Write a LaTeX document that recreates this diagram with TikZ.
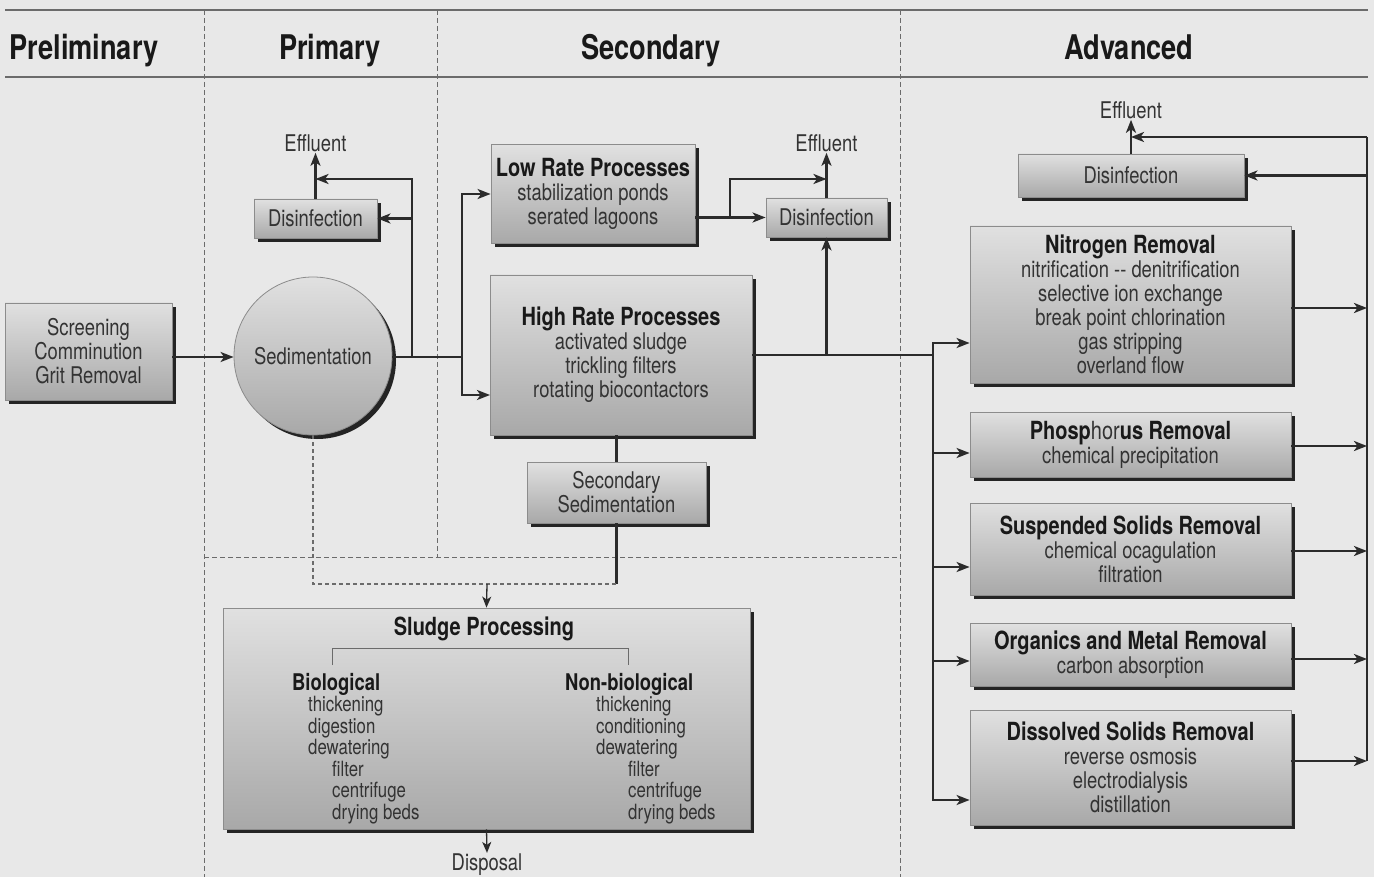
\documentclass[tikz,border=0pt]{standalone}
\usepackage{fontspec}
\setmainfont{TeX Gyre Heros}[FakeStretch=0.8]
\usepackage{tikz}
\usetikzlibrary{arrows.meta,shadows}
\definecolor{PaperGray}{gray}{0.91}
\definecolor{BoxTop}{gray}{0.88}
\definecolor{BoxBottom}{gray}{0.66}
\definecolor{BoxEdge}{gray}{0.55}
\definecolor{ShadowDark}{gray}{0.14}
\definecolor{LineDark}{gray}{0.17}
\definecolor{RuleGray}{gray}{0.42}
\definecolor{InkGray}{gray}{0.2}
\definecolor{TitleInk}{gray}{0.1}
\newcommand{\stagetitle}[1]{{\fontsize{25}{24}\selectfont\bfseries\color{TitleInk}#1}}
\newcommand{\grouptitle}[1]{{\fontsize{23}{21.5}\selectfont\bfseries\color{TitleInk}#1}}
\tikzset{
	stage/.style={draw=BoxEdge, line width=0.8pt, top color=BoxTop, bottom color=BoxBottom,
		drop shadow={shadow xshift=4pt, shadow yshift=-4pt, fill=ShadowDark, opacity=1},
		align=center, inner sep=0pt, text=InkGray, font=\fontsize{23}{24}\selectfont},
	tank/.style={stage, circle},
	outlet/.style={text=InkGray, inner sep=1pt, font=\fontsize{23}{24}\selectfont},
	heading/.style={anchor=base, text=TitleInk, font=\fontsize{34}{40}\selectfont\bfseries},
	sublist/.style={anchor=north west, align=left, inner sep=0pt, text=InkGray, font=\fontsize{21}{21.5}\selectfont},
	pipe/.style={draw=LineDark, line width=2.5pt},
	flow/.style={pipe, -{Stealth[length=13pt,width=10pt,inset=3.5pt]}},
	thinflow/.style={draw=LineDark, line width=1.3pt, -{Stealth[length=11pt,width=9pt,inset=3pt]}},
	sludgeline/.style={draw=RuleGray, line width=1.1pt, dash pattern=on 4pt off 3pt},
	divider/.style={draw=RuleGray, line width=0.9pt, dash pattern=on 5pt off 3pt},
	headrule/.style={draw=RuleGray, line width=1.6pt},
	bracket/.style={draw=RuleGray, line width=1pt}
}

\begin{document}
\begin{tikzpicture}[x=1pt,y=-1pt]
	\useasboundingbox (0,0) rectangle (1374,877);
	\fill[PaperGray] (0,0) rectangle (1374,877);
	\draw[headrule] (5,10) -- (1368,10);
	\draw[headrule] (5,77) -- (1368,77);
	\draw[divider] (204,10) -- (204,877);
	\draw[divider] (437,10) -- (437,557);
	\draw[divider] (204,557) -- (900,557);
	\draw[divider] (900,10) -- (900,877);

	\node[heading] (hpre) at (84,60) {Preliminary};
	\node[heading] (hpri) at (330,60) {Primary};
	\node[heading] (hsec) at (651,60) {Secondary};
	\node[heading] (hadv) at (1129,60) {Advanced};

	\node[stage, minimum width=167, minimum height=97] (scr) at (88.5,351.5) {Screening\\Comminution\\Grit Removal};
	\node[tank, minimum size=158] (sed) at (313,356) {Sedimentation};
	\node[stage, minimum width=123, minimum height=39] (dis1) at (315.5,218.5) {Disinfection};
	\node[outlet] (eff1) at (315.5,143) {Effluent};

	\node[stage, minimum width=204, minimum height=99] (low) at (593,194) {\stagetitle{Low Rate Processes}\\stabilization ponds\\serated lagoons};
	\node[stage, minimum width=262, minimum height=160] (high) at (621,355) {\stagetitle{High Rate Processes}\\activated sludge\\trickling filters\\rotating biocontactors};
	\node[stage, minimum width=179, minimum height=61] (ssed) at (616.5,492.5) {Secondary\\Sedimentation};
	\node[stage, minimum width=121, minimum height=39] (dis2) at (826.5,217.5) {Disinfection};
	\node[outlet] (eff2) at (826.5,143) {Effluent};

	\node[stage, minimum width=226, minimum height=43] (dis3) at (1131,175.5) {Disinfection};
	\node[outlet] (eff3) at (1131,110) {Effluent};
	\node[stage, minimum width=321, minimum height=157] (nit) at (1130.5,304.5) {\stagetitle{Nitrogen Removal}\\nitrification -{}- denitrification\\selective ion exchange\\break point chlorination\\gas stripping\\overland flow};
	\node[stage, minimum width=321, minimum height=65] (pho) at (1130.5,444.5) {\stagetitle{Phosp}{\fontsize{25}{24}\selectfont hor}\stagetitle{us Removal}\\chemical precipitation};
	\node[stage, minimum width=321, minimum height=92] (sus) at (1130.5,549) {\stagetitle{Suspended Solids Removal}\\chemical ocagulation\\filtration};
	\node[stage, minimum width=321, minimum height=63] (org) at (1130.5,654.5) {\stagetitle{Organics and Metal Removal}\\carbon absorption};
	\node[stage, minimum width=321, minimum height=115] (dis) at (1130.5,767.5) {\stagetitle{Dissolved Solids Removal}\\reverse osmosis\\electrodialysis\\distillation};

	\node[stage, minimum width=527, minimum height=221] (sludge) at (486.5,718.5) {};
	\node[inner sep=0pt] (sproc) at (484,629) {\stagetitle{Sludge Processing}};
	\node[sublist] (bio) at (292,673) {\grouptitle{Biological}\\\hspace*{16pt}thickening\\\hspace*{16pt}digestion\\\hspace*{16pt}dewatering\\\hspace*{40pt}filter\\\hspace*{40pt}centrifuge\\\hspace*{40pt}drying beds};
	\node[sublist] (nonbio) at (565,673) {\grouptitle{Non-biological}\\\hspace*{31pt}thickening\\\hspace*{31pt}conditioning\\\hspace*{31pt}dewatering\\\hspace*{63pt}filter\\\hspace*{63pt}centrifuge\\\hspace*{63pt}drying beds};
	\node[outlet] (disp) at (487,865) {Disposal};

	\coordinate (ja) at (412,357);
	\coordinate (jb) at (462,357);
	\coordinate (m1) at (315.5,179);
	\coordinate (hin) at (490,395);
	\coordinate (jc) at (616.5,584);
	\coordinate (jd) at (313,584);
	\coordinate (je) at (487,584);
	\coordinate (jf) at (730,217.5);
	\coordinate (m2) at (826.5,179);
	\coordinate (jh) at (933,355);
	\coordinate (rt) at (1367,137);
	\coordinate (rb) at (1367,761);
	\coordinate (m3) at (1131,137);
	\coordinate (bl) at (332,665);
	\coordinate (br) at (628,665);

	\draw[flow] (scr.east |- ja) -- (sed.west |- ja);
	\draw[pipe] (sed.east |- ja) -- (jb);
	\draw[flow] (ja) |- (m1);
	\draw[flow] (ja |- dis1.east) -- (dis1.east);
	\draw[flow] (dis1.north) -- (eff1.south);
	\draw[flow] (jb) |- (low.west);
	\draw[flow] (jb) |- (hin);

	\draw[pipe] (ssed.north |- high.south) -- (ssed.north);
	\draw[pipe] (ssed.south) -- (jc);
	\draw[sludgeline] (sed.south) -- (jd) -- (jc);
	\draw[thinflow] (je) -- (sludge.north);
	\draw[thinflow] (sludge.south) -- (disp.north);
	\draw[bracket] (bl) -- ++(0,-17) -| (br);

	\draw[flow] (low.east |- dis2.west) -- (dis2.west);
	\draw[flow] (jf) |- (m2);
	\draw[flow] (dis2.north) -- (eff2.south);
	\draw[pipe] (high.east) -- (jh);
	\draw[flow] (dis2.south |- high.east) -- (dis2.south);

	\foreach \n/\s in {nit/-38.5,pho/-8.5,sus/-18,org/-6.5,dis/-32.5}
		\draw[flow] (jh) |- ([yshift=\s pt]\n.west);
	\foreach \n/\s in {nit/-3.5,pho/-1.5,sus/-2,org/-4.5,dis/6.5}
		\draw[flow] ([yshift=\s pt]\n.east) -- ([yshift=\s pt]\n.east -| rt);
	\draw[pipe] (rt) -- (rb);
	\draw[flow] (rt) -- (m3);
	\draw[flow] (rt |- dis3.east) -- (dis3.east);
	\draw[flow] (dis3.north) -- (eff3.south);
\end{tikzpicture}
\end{document}
